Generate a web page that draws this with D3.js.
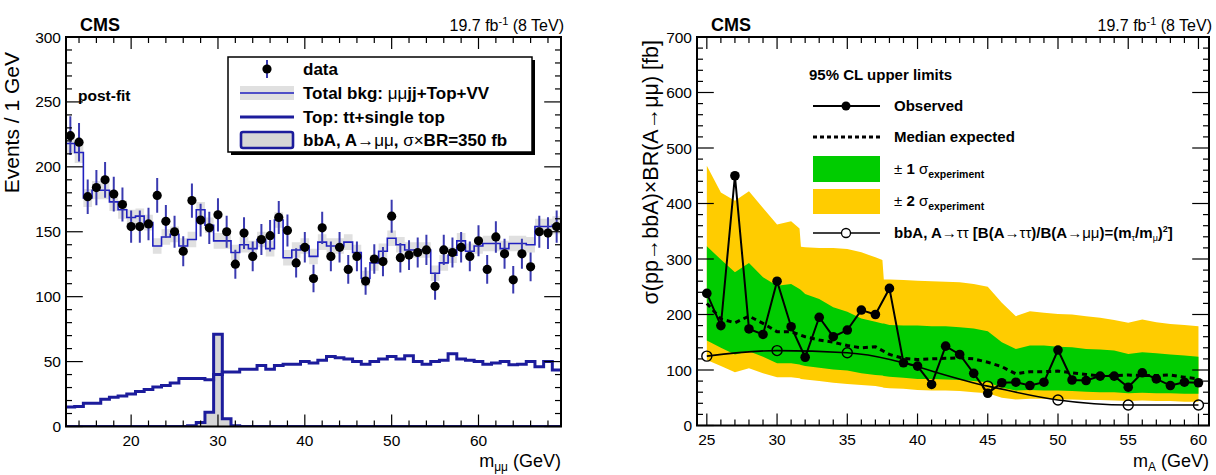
<!DOCTYPE html>
<html><head><meta charset="utf-8">
<script src="https://cdn.jsdelivr.net/npm/d3@7"></script>
<style>
body{margin:0;background:#fff}
svg{display:block}
text{font-family:"Liberation Sans",Arial,Helvetica,sans-serif;fill:#000}
</style>
</head><body>
<svg id="c" width="1216" height="475"></svg>
<script>
// ---------------- LEFT PANEL DATA ----------------
const massBins = [13,14,15,16,17,18,19,20,21,22,23,24,25,26,27,28,29,30,31,32,33,34,35,36,37,38,39,40,41,42,43,44,45,46,47,48,49,50,51,52,53,54,55,56,57,58,59,60,61,62,63,64,65,66,67,68,69];
const dataCounts = [224,219,177,184,190,179,171,154,154,156,178,158,150,135,174,159,153,163,150,125,149,131,144,147,161,151,126,138,114,153,131,138,121,131,112,129,127,162,130,132,134,136,108,136,134,138,131,143,121,146,133,113,133,123,150,149,154];
const totalBkg = [218,211,176,182,182,173,167,161,162,157,139,146,148,139,144,167,155,143,143,134,140,137,144,137,159,130,136,139,131,142,139,139,142,134,114,126,135,145,140,136,136,136,118,126,132,143,135,139,141,141,137,141,141,140,154,154,155];
const totalBkgUnc = [8,8,7,7,7,7,7,6,6,6,6,6,6,6,6,6,6,6,6,6,6,6,6,6,6,6,6,6,6,6,6,6,6,6,6,6,6,6,6,6,6,6,6,6,6,6,6,6,6,6,6,6,6,6,6,6,7];
const topBkg = [15,15.5,18,18,21,22.5,23.5,25,27,28.5,30.5,31.5,33.5,37,37,37,36,40,42,42,44,44,47,44,47,48,48,50,49,51,54,53,52,50,48,50,52,54,52,54.5,50,48,50,51,56,52,51,50,48,49,50,47.5,48,50,46,50,43.5];
const signalBbA = [0,0,0,0,0,0,0,0,0,0,0,0,0,0,0.5,3,11,71,6,0.5,0,0,0,0,0,0,0,0,0,0,0,0,0,0,0,0,0,0,0,0,0,0,0,0,0,0,0,0,0,0,0,0,0,0,0,0,0];
const leftYTicks = [0,50,100,150,200,250,300];
const leftXTicks = [20,30,40,50,60];

// ---------------- RIGHT PANEL DATA ----------------
const limitMass = [25,26,27,28,29,30,31,32,33,34,35,36,37,38,39,40,41,42,43,44,45,46,47,48,49,50,51,52,53,54,55,56,57,58,59,60];
const observed = [238,180,450,174,164,260,178,123,195,160,172,208,200,247,113,107,74,143,128,94,58,77,78,72,78,136,82,81,89,89,69,95,84,72,78,77];
const expected = [220,192,185,197,184,169,169,160,154,150,144,140,142,128,121,119,120,121,122,120,114,106,93,97,97,98,95,92,89,90,91,90,90,91,87,84];
const bandMass = [25,26,27,28,29,30,31,31.6,31.7,32,33,34,35,36,37,37.5,37.6,38,39,40,41,42,43,44,45,46,47,48,49,50,51,52,53,54,55,56,57,58,59,60];
const plus2 = [468,420,405,422,392,362,368,355,322,321,320,320,318,312,303,298,263,263,262,261,260,259,258,255,250,221,197,206,203,201,200,197,194,190,185,191,186,183,181,179];
const plus1 = [323,299,276,293,267,252,255,246,244,237,228,213,205,193,187,184,184,181,180,180,179,179,177,175,170,150,138,144,144,142,141,138,137,135,129,132,130,128,126,124];
const minus1 = [153,140,128,134,124,112,112,110,109,107,104,101,99,94,91,90,89,88,86,84,84,83,82,80,78,68,63,64,63,63,62,61,60,60,58,59,58,58,57,57];
const minus2 = [118,107,96,103,94,87,87,85,84,83,80,77,75,73,71,69,68,67,66,64,63,63,62,60,58,50,47,48,48,47,47,46,46,45,44,45,44,44,43,43];
const ttMass = [25,30,35,45,50,55,60];
const ttLimit = [125,135,131,71,46,37,37];
const rightYTicks = [0,100,200,300,400,500,600,700];
const rightXTicks = [25,30,35,40,45,50,55,60];

// ---------------- DRAWING ----------------
const svg = d3.select("#c");

function frame(g, x, y, xMajor, xMinor, yMajor, yMinor, fmtX, fmtY) {
  const [x0, x1] = x.range(), [y1, y0] = y.range();
  const majL = 12, minL = 6;
  const tk = g.append("g").attr("stroke", "#000").attr("stroke-width", 1.2);
  xMinor.forEach(v => {
    tk.append("line").attr("x1", x(v)).attr("x2", x(v)).attr("y1", y1).attr("y2", y1 - minL);
    tk.append("line").attr("x1", x(v)).attr("x2", x(v)).attr("y1", y0).attr("y2", y0 + minL);
  });
  xMajor.forEach(v => {
    tk.append("line").attr("x1", x(v)).attr("x2", x(v)).attr("y1", y1).attr("y2", y1 - majL);
    tk.append("line").attr("x1", x(v)).attr("x2", x(v)).attr("y1", y0).attr("y2", y0 + majL);
  });
  yMinor.forEach(v => {
    tk.append("line").attr("y1", y(v)).attr("y2", y(v)).attr("x1", x0).attr("x2", x0 + minL);
    tk.append("line").attr("y1", y(v)).attr("y2", y(v)).attr("x1", x1).attr("x2", x1 - minL);
  });
  yMajor.forEach(v => {
    tk.append("line").attr("y1", y(v)).attr("y2", y(v)).attr("x1", x0).attr("x2", x0 + majL*1.4);
    tk.append("line").attr("y1", y(v)).attr("y2", y(v)).attr("x1", x1).attr("x2", x1 - majL*1.4);
  });
  g.append("rect").attr("x", x0).attr("y", y0).attr("width", x1 - x0).attr("height", y1 - y0)
    .attr("fill", "none").attr("stroke", "#000").attr("stroke-width", 2);
  g.append("g").selectAll("text").data(xMajor).join("text")
    .attr("x", d => x(d)).attr("y", y1 + 19.5).attr("text-anchor", "middle")
    .attr("font-size", 15.5).text(fmtX);
  g.append("g").selectAll("text").data(yMajor).join("text")
    .attr("x", x0 - 5).attr("y", d => y(d) + 5.5).attr("text-anchor", "end")
    .attr("font-size", 15.5).text(fmtY);
}

function histPoints(centers, vals) {
  const pts = [];
  centers.forEach((c, i) => { pts.push([c - 0.5, vals[i]]); pts.push([c + 0.5, vals[i]]); });
  return pts;
}
function legText(g, x, y, parts, size) {
  const t = g.append("text").attr("x", x).attr("y", y).attr("font-size", size).attr("font-weight", "bold");
  parts.forEach(p => {
    const s = t.append("tspan").text(p.t);
    if (p.n) s.attr("font-weight", "normal");
    if (p.dy) s.attr("dy", p.dy);
    if (p.fs) s.attr("font-size", p.fs);
  });
  return t;
}
function lumi(g, xr) {
  const t = g.append("text").attr("x", xr).attr("y", 31).attr("font-size", 16).attr("text-anchor", "end");
  t.append("tspan").text("19.7 fb");
  t.append("tspan").attr("dy", -6).attr("font-size", 11).text("-1");
  t.append("tspan").attr("dy", 6).text(" (8 TeV)");
}
function xTitle(g, xr, sub) {
  const t = g.append("text").attr("x", xr).attr("y", 467).attr("font-size", 18).attr("text-anchor", "end");
  t.append("tspan").text("m");
  t.append("tspan").attr("dy", 3.5).attr("font-size", 12).text(sub);
  t.append("tspan").attr("dy", -3.5).text(" (GeV)");
}

// ===== LEFT =====
const xL = d3.scaleLinear().domain([12.5, 69.5]).range([66, 561]);
const yL = d3.scaleLinear().domain([0, 300]).range([426.5, 37]);
const gL = svg.append("g");
svg.append("clipPath").attr("id", "clipL").append("rect")
  .attr("x", 66).attr("y", 37).attr("width", 495).attr("height", 389.5);
const pL = gL.append("g").attr("clip-path", "url(#clipL)");

const bandPts = [];
massBins.forEach((c, i) => {
  bandPts.push([c - 0.5, totalBkg[i] - totalBkgUnc[i], totalBkg[i] + totalBkgUnc[i]]);
  bandPts.push([c + 0.5, totalBkg[i] - totalBkgUnc[i], totalBkg[i] + totalBkgUnc[i]]);
});
pL.append("path").datum(bandPts)
  .attr("d", d3.area().x(d => xL(d[0])).y0(d => yL(d[1])).y1(d => yL(d[2])))
  .attr("fill", "#e0e0e0");

pL.append("path").datum(histPoints(massBins, signalBbA))
  .attr("d", d3.area().x(d => xL(d[0])).y0(yL(0)).y1(d => yL(d[1])))
  .attr("fill", "#d6d6d6");

const lineL = d3.line().x(d => xL(d[0])).y(d => yL(d[1]));
pL.append("path").datum(histPoints(massBins, totalBkg)).attr("d", lineL)
  .attr("fill", "none").attr("stroke", "#2020c0").attr("stroke-width", 1.6);
pL.append("path").datum(histPoints(massBins, topBkg)).attr("d", lineL)
  .attr("fill", "none").attr("stroke", "#1c1c9c").attr("stroke-width", 3);
pL.append("path").datum(histPoints(massBins, signalBbA)).attr("d", lineL)
  .attr("fill", "none").attr("stroke", "#1c1c9c").attr("stroke-width", 3);

const dg = pL.append("g");
massBins.forEach((c, i) => {
  const v = dataCounts[i], e = Math.sqrt(v);
  dg.append("line").attr("x1", xL(c)).attr("x2", xL(c)).attr("y1", yL(v - e)).attr("y2", yL(v + e))
    .attr("stroke", "#3a3ab0").attr("stroke-width", 2);
  dg.append("circle").attr("cx", xL(c)).attr("cy", yL(v)).attr("r", 4.6).attr("fill", "#000");
});

frame(gL, xL, yL, leftXTicks, d3.range(14, 70, 2).filter(v => v % 10 !== 0),
  leftYTicks, d3.range(0, 301, 10).filter(v => v % 50 !== 0), d => d, d => d);

gL.append("text").attr("x", 80).attr("y", 31).attr("font-size", 18).attr("font-weight", "bold").text("CMS");
lumi(gL, 564);
xTitle(gL, 561, "μμ");
gL.append("text").attr("transform", "translate(19,52) rotate(-90)").attr("text-anchor", "end")
  .attr("font-size", 21).text("Events / 1 GeV");
gL.append("text").attr("x", 78).attr("y", 101).attr("font-size", 15.5).attr("font-weight", "bold").text("post-fit");

const lg = gL.append("g");
lg.append("rect").attr("x", 231).attr("y", 60).attr("width", 304).attr("height", 95).attr("fill", "#000");
lg.append("rect").attr("x", 228).attr("y", 57).attr("width", 304).attr("height", 95).attr("fill", "#fff")
  .attr("stroke", "#000").attr("stroke-width", 1.5);
const rowsL = [69, 93, 117, 140];
lg.append("line").attr("x1", 267).attr("x2", 267).attr("y1", rowsL[0] - 9).attr("y2", rowsL[0] + 9)
  .attr("stroke", "#3a3ab0").attr("stroke-width", 2);
lg.append("circle").attr("cx", 267).attr("cy", rowsL[0]).attr("r", 4.6).attr("fill", "#000");
lg.append("rect").attr("x", 240).attr("y", rowsL[1] - 7).attr("width", 54).attr("height", 14).attr("fill", "#e0e0e0");
lg.append("line").attr("x1", 240).attr("x2", 294).attr("y1", rowsL[1]).attr("y2", rowsL[1])
  .attr("stroke", "#2020c0").attr("stroke-width", 1.6);
lg.append("line").attr("x1", 240).attr("x2", 294).attr("y1", rowsL[2]).attr("y2", rowsL[2])
  .attr("stroke", "#1c1c9c").attr("stroke-width", 3);
lg.append("rect").attr("x", 241).attr("y", rowsL[3] - 8).attr("width", 52).attr("height", 16).attr("rx", 2)
  .attr("fill", "#d6d6d6").attr("stroke", "#1c1c9c").attr("stroke-width", 2.6);
legText(lg, 303, rowsL[0] + 6, [{t: "data"}], 17);
legText(lg, 303, rowsL[1] + 6, [{t: "Total bkg: "}, {t: "μμ", n: 1}, {t: "jj+Top+VV"}], 17);
legText(lg, 303, rowsL[2] + 6, [{t: "Top: tt+single top"}], 17);
legText(lg, 303, rowsL[3] + 6, [{t: "bbA, A"}, {t: "→μμ", n: 1}, {t: ", "}, {t: "σ×", n: 1}, {t: "BR=350 fb"}], 17);

// ===== RIGHT =====
const xR = d3.scaleLinear().domain([24.3, 60.75]).range([697, 1209]);
const yR = d3.scaleLinear().domain([0, 700]).range([425.5, 37]);
const gR = svg.append("g");
svg.append("clipPath").attr("id", "clipR").append("rect")
  .attr("x", 697).attr("y", 37).attr("width", 512).attr("height", 388.5);
const pR = gR.append("g").attr("clip-path", "url(#clipR)");

const bandIdx = bandMass.map((m, i) => i);
pR.append("path").datum(bandIdx)
  .attr("d", d3.area().x(i => xR(bandMass[i])).y0(i => yR(minus2[i])).y1(i => yR(plus2[i])))
  .attr("fill", "#ffcc00");
pR.append("path").datum(bandIdx)
  .attr("d", d3.area().x(i => xR(bandMass[i])).y0(i => yR(minus1[i])).y1(i => yR(plus1[i])))
  .attr("fill", "#00cc00");

const limIdx = limitMass.map((m, i) => i);
pR.append("path").datum(limIdx)
  .attr("d", d3.line().x(i => xR(limitMass[i])).y(i => yR(expected[i])))
  .attr("fill", "none").attr("stroke", "#000").attr("stroke-width", 3).attr("stroke-dasharray", "5,4");

const ttIdx = ttMass.map((m, i) => i);
pR.append("path").datum(ttIdx)
  .attr("d", d3.line().curve(d3.curveMonotoneX).x(i => xR(ttMass[i])).y(i => yR(ttLimit[i])))
  .attr("fill", "none").attr("stroke", "#000").attr("stroke-width", 1.6);
pR.append("g").selectAll("circle").data(ttIdx).join("circle")
  .attr("cx", i => xR(ttMass[i])).attr("cy", i => yR(ttLimit[i])).attr("r", 5)
  .attr("fill", "none").attr("stroke", "#000").attr("stroke-width", 1.4);

pR.append("path").datum(limIdx)
  .attr("d", d3.line().x(i => xR(limitMass[i])).y(i => yR(observed[i])))
  .attr("fill", "none").attr("stroke", "#000").attr("stroke-width", 2);
pR.append("g").selectAll("circle").data(limIdx).join("circle")
  .attr("cx", i => xR(limitMass[i])).attr("cy", i => yR(observed[i])).attr("r", 4.8).attr("fill", "#000");

frame(gR, xR, yR, rightXTicks, d3.range(25, 61, 1).filter(v => v % 5 !== 0),
  rightYTicks, d3.range(0, 701, 20).filter(v => v % 100 !== 0), d => d, d => d);

gR.append("text").attr("x", 711).attr("y", 31).attr("font-size", 18).attr("font-weight", "bold").text("CMS");
lumi(gR, 1212);
xTitle(gR, 1209, "A");
gR.append("text").attr("transform", "translate(658,40) rotate(-90)").attr("text-anchor", "end")
  .attr("font-size", 21.5).text("σ(pp→bbA)×BR(A→μμ) [fb]");

const lr = gR.append("g");
const lx0 = 813, lx1 = 880, lxc = 846, ltx = 894;
legText(lr, 809, 80, [{t: "95% CL upper limits"}], 15);
const ry = [106, 137, 169, 201, 233];
lr.append("line").attr("x1", lx0).attr("x2", lx1).attr("y1", ry[0]).attr("y2", ry[0]).attr("stroke", "#000").attr("stroke-width", 2);
lr.append("circle").attr("cx", lxc).attr("cy", ry[0]).attr("r", 4.5).attr("fill", "#000");
lr.append("line").attr("x1", lx0).attr("x2", lx1).attr("y1", ry[1]).attr("y2", ry[1]).attr("stroke", "#000")
  .attr("stroke-width", 3).attr("stroke-dasharray", "4,3");
lr.append("rect").attr("x", lx0).attr("y", ry[2] - 13).attr("width", lx1 - lx0).attr("height", 26).attr("fill", "#00cc00");
lr.append("rect").attr("x", lx0).attr("y", ry[3] - 12).attr("width", lx1 - lx0).attr("height", 25).attr("fill", "#ffcc00");
lr.append("line").attr("x1", lx0).attr("x2", lx1).attr("y1", ry[4]).attr("y2", ry[4]).attr("stroke", "#000").attr("stroke-width", 1.6);
lr.append("circle").attr("cx", lxc).attr("cy", ry[4]).attr("r", 4.5).attr("fill", "#fff").attr("stroke", "#000").attr("stroke-width", 1.3);
legText(lr, ltx, ry[0] + 5, [{t: "Observed"}], 15);
legText(lr, ltx, ry[1] + 5, [{t: "Median expected"}], 15);
legText(lr, ltx, ry[2] + 5, [{t: "± ", n: 1}, {t: "1 "}, {t: "σ", n: 1}, {t: "experiment", dy: 4, fs: 10.5}], 15);
legText(lr, ltx, ry[3] + 5, [{t: "± ", n: 1}, {t: "2 "}, {t: "σ", n: 1}, {t: "experiment", dy: 4, fs: 10.5}], 15);
legText(lr, ltx, ry[4] + 5, [{t: "bbA, A"}, {t: "→ττ", n: 1}, {t: " [B(A"}, {t: "→ττ", n: 1}, {t: ")/B(A"},
  {t: "→μμ", n: 1}, {t: ")=(m"}, {t: "τ", n: 1, dy: 3, fs: 9}, {t: "/m", dy: -3}, {t: "μ", n: 1, dy: 3, fs: 9},
  {t: ")", dy: -3}, {t: "2", dy: -6, fs: 9}, {t: "]", dy: 6}], 15);
</script>
</body></html>
